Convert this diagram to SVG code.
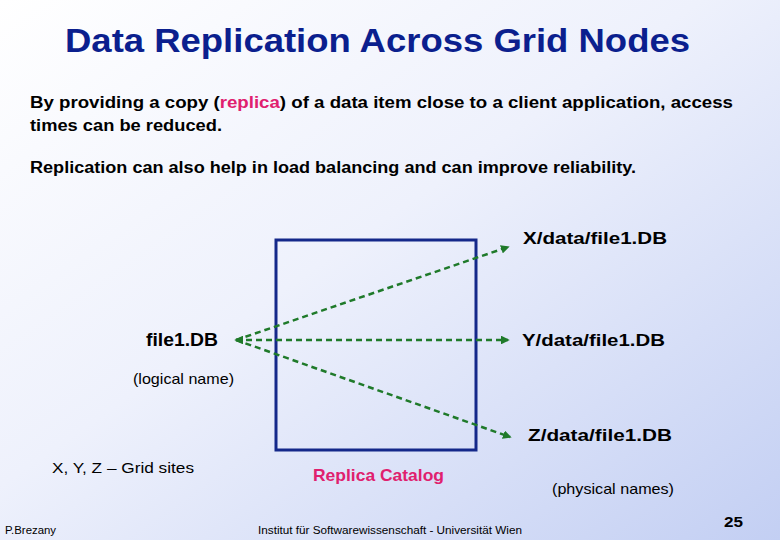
<svg xmlns="http://www.w3.org/2000/svg" width="780" height="540" viewBox="0 0 780 540">
<defs>
<linearGradient id="bg" x1="0" y1="0" x2="1" y2="1">
<stop offset="0" stop-color="#ffffff"/>
<stop offset="0.45" stop-color="#eef1fc"/>
<stop offset="1" stop-color="#c3cff3"/>
</linearGradient>
<marker id="ah" viewBox="0 0 10 10" refX="8" refY="5" markerWidth="3.5" markerHeight="3.5" orient="auto-start-reverse">
<path d="M0,0 L10,5 L0,10 z" fill="#1f7a2a"/>
</marker>
<style>
.t{font-family:"Comic Sans MS","Liberation Sans",sans-serif;font-weight:bold;fill:#000}
.n{font-family:"Comic Sans MS","Liberation Sans",sans-serif;fill:#000}
.c{fill:none;stroke:#1f7a2a;stroke-width:2.5;stroke-dasharray:6,4}
</style>
</defs>
<rect width="780" height="540" fill="url(#bg)"/>
<text x="65" y="52" class="t" style="fill:#0b1f8e;font-size:33px" textLength="625" lengthAdjust="spacingAndGlyphs">Data Replication Across Grid Nodes</text>
<text x="30" y="108" class="t" font-size="16" textLength="703" lengthAdjust="spacingAndGlyphs">By providing a copy (<tspan fill="#e0206e">replica</tspan>) of a data item close to a client application, access</text>
<text x="30" y="131" class="t" font-size="16" textLength="192" lengthAdjust="spacingAndGlyphs">times can be reduced.</text>
<text x="30" y="173" class="t" font-size="16" textLength="606" lengthAdjust="spacingAndGlyphs">Replication can also help in load balancing and can improve reliability.</text>
<g id="catalog">
<rect x="276" y="240" width="200" height="210" fill="none" stroke="#14288a" stroke-width="3"/>
<text x="313" y="481" class="t" style="fill:#e0206e" font-size="17" textLength="131" lengthAdjust="spacingAndGlyphs">Replica Catalog</text>
</g>
<g id="connectors">
<line class="c" x1="236" y1="340" x2="508" y2="247" marker-end="url(#ah)"/>
<line class="c" x1="236" y1="340" x2="508" y2="340" marker-start="url(#ah)" marker-end="url(#ah)"/>
<line class="c" x1="236" y1="340" x2="510" y2="437" marker-end="url(#ah)"/>
</g>
<g id="logical">
<text x="146" y="346" class="t" font-size="18" textLength="72" lengthAdjust="spacingAndGlyphs">file1.DB</text>
<text x="133" y="384" class="n" font-size="15" textLength="101" lengthAdjust="spacingAndGlyphs">(logical name)</text>
</g>
<g id="x-site"><text x="523" y="244" class="t" font-size="17" textLength="144" lengthAdjust="spacingAndGlyphs">X/data/file1.DB</text></g>
<g id="y-site"><text x="522" y="346" class="t" font-size="17" textLength="143" lengthAdjust="spacingAndGlyphs">Y/data/file1.DB</text></g>
<g id="z-site"><text x="528" y="441" class="t" font-size="17" textLength="144" lengthAdjust="spacingAndGlyphs">Z/data/file1.DB</text></g>
<text x="552" y="494" class="n" font-size="15" textLength="122" lengthAdjust="spacingAndGlyphs">(physical names)</text>
<text x="52" y="473" class="n" font-size="15" textLength="142" lengthAdjust="spacingAndGlyphs">X, Y, Z – Grid sites</text>
<text x="5" y="534" class="n" font-size="10" textLength="51" lengthAdjust="spacingAndGlyphs">P.Brezany</text>
<text x="258" y="534" class="n" font-size="10" textLength="264" lengthAdjust="spacingAndGlyphs">Institut für Softwarewissenschaft - Universität Wien</text>
<text x="724" y="527" class="t" font-size="14" textLength="19" lengthAdjust="spacingAndGlyphs">25</text>
</svg>
